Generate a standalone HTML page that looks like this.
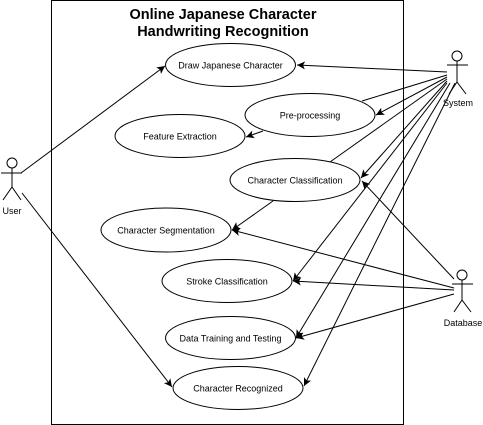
<!DOCTYPE html>
<html><head><meta charset="utf-8"><style>
html,body{margin:0;padding:0;background:#fff;width:483px;height:425px;overflow:hidden}
svg{display:block}
text{font-family:"Liberation Sans",Arial,sans-serif;fill:#000}
</style></head><body>
<svg width="483" height="425" viewBox="0 0 483 425" xmlns="http://www.w3.org/2000/svg">
<defs><marker id="a" markerWidth="10" markerHeight="10" refX="8" refY="5" orient="auto" markerUnits="userSpaceOnUse"><path d="M0,1 L8,5 L0,9 L2,5 z" fill="#000"/></marker></defs>
<rect x="51.5" y="0.5" width="352" height="424" fill="#fff" stroke="#000" stroke-width="1"/>
<text x="223" y="19" font-size="14.5" font-weight="bold" text-anchor="middle">Online Japanese Character</text>
<text x="223" y="36" font-size="14.5" font-weight="bold" text-anchor="middle">Handwriting Recognition</text>
<g stroke="#000" stroke-width="1" fill="none">
<line x1="21" y1="173" x2="165" y2="66" marker-end="url(#a)"/>
<line x1="22" y1="193" x2="172" y2="387" marker-end="url(#a)"/>
<line x1="447" y1="72" x2="297" y2="65" marker-end="url(#a)"/>
<line x1="447" y1="75" x2="362" y2="101"/>
<line x1="447" y1="77" x2="376" y2="115" marker-end="url(#a)"/>
<line x1="263" y1="131" x2="246" y2="137" marker-end="url(#a)"/>
<line x1="447" y1="79" x2="330" y2="162"/>
<line x1="447" y1="81" x2="361" y2="178" marker-end="url(#a)"/>
<line x1="273" y1="201" x2="232" y2="230" marker-end="url(#a)"/>
<line x1="447" y1="83" x2="293" y2="281" marker-end="url(#a)"/>
<line x1="450" y1="83" x2="296" y2="338" marker-end="url(#a)"/>
<line x1="455" y1="83" x2="304" y2="386" marker-end="url(#a)"/>
<line x1="454" y1="279" x2="362" y2="181" marker-end="url(#a)"/>
<line x1="454" y1="288" x2="232" y2="230" marker-end="url(#a)"/>
<line x1="454" y1="290" x2="293" y2="281" marker-end="url(#a)"/>
<line x1="454" y1="294" x2="296" y2="338" marker-end="url(#a)"/>
</g>
<g stroke="#000" stroke-width="1" fill="#fff">
<ellipse cx="230.5" cy="65" rx="65" ry="21.5"/>
<ellipse cx="310" cy="115" rx="65" ry="21.5"/>
<ellipse cx="180" cy="136" rx="65" ry="21.5"/>
<ellipse cx="295" cy="180" rx="65" ry="21.5"/>
<ellipse cx="166" cy="230" rx="65" ry="22"/>
<ellipse cx="227" cy="281" rx="65" ry="21.5"/>
<ellipse cx="230.5" cy="338" rx="65" ry="21.5"/>
<ellipse cx="238" cy="388" rx="65" ry="21.5"/>
</g>
<g font-size="9" text-anchor="middle">
<text x="230.5" y="68.5">Draw Japanese Character</text>
<text x="310" y="118.5">Pre-processing</text>
<text x="180" y="139.5">Feature Extraction</text>
<text x="295" y="183.5">Character Classification</text>
<text x="166" y="233.5">Character Segmentation</text>
<text x="227" y="284.5">Stroke Classification</text>
<text x="230.5" y="341.5">Data Training and Testing</text>
<text x="238" y="391.5">Character Recognized</text>
</g>
<g stroke="#000" stroke-width="1" fill="#fff">
<circle cx="12" cy="163" r="5"/>
<path d="M12 168 V187 M1 173 H22 M3 200 L12 187 L21 200" fill="none"/>
<circle cx="457" cy="56" r="5"/>
<path d="M457 61 V82 M447 65 H468 M449 94 L457 82 L466 94" fill="none"/>
<circle cx="462" cy="275" r="5"/>
<path d="M462 280 V300 M452 284 H473 M454 312 L462 300 L471 312" fill="none"/>
</g>
<g font-size="9" text-anchor="middle">
<text x="12" y="214">User</text>
<text x="458" y="106">System</text>
<text x="463" y="326">Database</text>
</g>
</svg>
</body></html>
